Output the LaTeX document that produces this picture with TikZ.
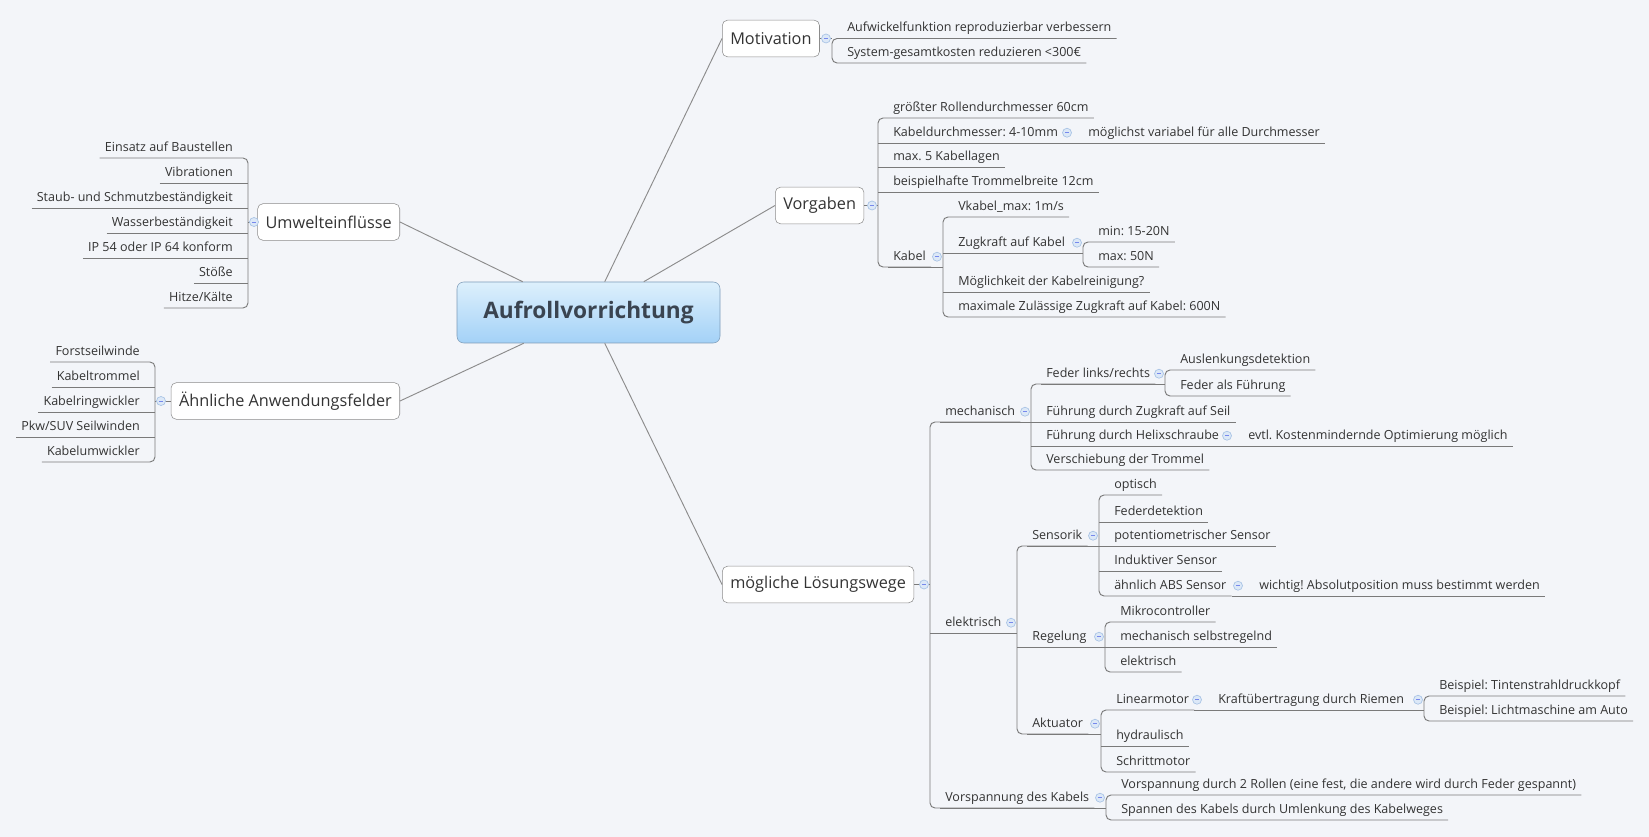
\documentclass[tikz,border=0pt]{standalone}
\usepackage{fontspec}
\newfontfamily\mapfont{Open Sans}
\usepackage{tikz}
\usetikzlibrary{positioning, calc}
\frenchspacing

\definecolor{bgcol}{HTML}{F3F5F9}
\definecolor{txtgray}{HTML}{333333}
\definecolor{linegray}{HTML}{7A7A7A}
\definecolor{boxgray}{HTML}{8C8C8C}
\definecolor{roottop}{HTML}{DDF0FC}
\definecolor{rootbot}{HTML}{A3D1F7}
\definecolor{rootline}{HTML}{7D9BB8}
\definecolor{roottxt}{HTML}{3A4450}
\definecolor{foldfill}{HTML}{DCE8F7}
\definecolor{folddraw}{HTML}{A8C3E5}

\newcommand{\leaffont}{\mapfont\fontsize{9.4}{11}\selectfont}
\newcommand{\topicfont}{\mapfont\fontsize{12.2}{14}\selectfont}
\newcommand{\rootfont}{\mapfont\bfseries\fontsize{17}{20}\selectfont}

\tikzset{
  rootbox/.style={draw=rootline, rounded corners=5pt, top color=roottop, bottom color=rootbot,
    text=roottxt, font=\rootfont, minimum width=197.25pt, minimum height=45.75pt},
  topic/.style={draw=boxgray, fill=white, rounded corners=4pt, text=txtgray, font=\topicfont,
    inner xsep=6pt, inner ysep=0pt, minimum height=27.5pt},
  leaf/.style={text=txtgray, font=\leaffont, inner xsep=3.75pt, inner ysep=3pt,
    text height=7pt, text depth=2pt},
  leafR/.style={leaf, anchor=south west},
  leafL/.style={leaf, anchor=south east},
  branch/.style={draw=boxgray, line width=0.7pt},
  uline/.style={draw=linegray, line width=0.7pt, rounded corners=3.75pt},
  fold/.style={circle, draw=folddraw, fill=foldfill, line width=0.5pt, inner sep=0pt, minimum size=6.75pt,
    path picture={\draw[folddraw!70!blue, line width=0.6pt]
      ([xshift=-1.6pt]path picture bounding box.center) -- ([xshift=1.6pt]path picture bounding box.center);}},
}

\begin{document}
\begin{tikzpicture}[x=0.75pt, y=-0.75pt]
    % Background and page size
    \path[use as bounding box, fill=bgcol] (0,0) rectangle (1649,837);

    % Central topic and main topics
    \node[rootbox] (root) at (588.5,312.5) {Aufrollvorrichtung};
    \node[topic, anchor=east] (umwelt) at (400,222) {Umwelteinflüsse};
    \node[topic, anchor=east] (aehnl) at (400,401) {Ähnliche Anwendungsfelder};
    \node[topic, anchor=west] (motiv) at (722,38.5) {Motivation};
    \node[topic, anchor=west] (vorg) at (775,205.5) {Vorgaben};
    \node[topic, anchor=west] (loesung) at (722,584.5) {mögliche Lösungswege};

    % Branches from the central topic
    \draw[branch] (umwelt.east) -- ($(root.north west)+(66,0)$);
    \draw[branch] (aehnl.east) -- ($(root.south west)+(67,0)$);
    \draw[branch] (motiv.west) -- ($(root.north west)+(148,0)$);
    \draw[branch] (vorg.west) -- ($(root.north west)+(187,0)$);
    \draw[branch] (loesung.west) -- ($(root.south west)+(148,0)$);

    % Umwelteinflüsse
    \node[leafL] (einsatz) at (238,158) {Einsatz auf Baustellen};
    \node[leafL] (vibra) at (238,183) {Vibrationen};
    \node[leafL] (staub) at (238,208) {Staub- und Schmutzbeständigkeit};
    \node[leafL] (wasser) at (238,233) {Wasserbeständigkeit};
    \node[leafL] (ip) at (238,258) {IP 54 oder IP 64 konform};
    \node[leafL] (stoss) at (238,283) {Stöße};
    \node[leafL] (hitze) at (238,308) {Hitze/Kälte};
    \draw[uline] (einsatz.south west) -- ($(einsatz.south east)+(10,0)$) -- ($(hitze.south east)+(10,0)$) -- (hitze.south west);
    \foreach \n in {vibra,staub,wasser,ip,stoss}
        \draw[uline] (\n.south west) -- ($(\n.south east)+(10,0)$);
    \draw[uline] (umwelt.west) -- ($(einsatz.south east |- umwelt.west)+(10,0)$);
    \node[fold] (fUmwelt) at ($(einsatz.south east |- umwelt.west)+(16,0)$) {};

    % Ähnliche Anwendungsfelder
    \node[leafL] (forst) at (145,362) {Forstseilwinde};
    \node[leafL] (ktrommel) at (145,387) {Kabeltrommel};
    \node[leafL] (kring) at (145,412) {Kabelringwickler};
    \node[leafL] (pkw) at (145,437) {Pkw/SUV Seilwinden};
    \node[leafL] (kumw) at (145,462) {Kabelumwickler};
    \draw[uline] (forst.south west) -- ($(forst.south east)+(10,0)$) -- ($(kumw.south east)+(10,0)$) -- (kumw.south west);
    \foreach \n in {ktrommel,kring,pkw}
        \draw[uline] (\n.south west) -- ($(\n.south east)+(10,0)$);
    \draw[uline] (aehnl.west) -- ($(forst.south east |- aehnl.west)+(10,0)$);
    \node[fold] (fAehnl) at ($(forst.south east |- aehnl.west)+(16,0)$) {};

    % Motivation
    \node[leafR] (aufw) at (842,38.5) {Aufwickelfunktion reproduzierbar verbessern};
    \node[leafR] (kosten) at (842,63) {System-gesamtkosten reduzieren <300€};
    \draw[uline] (aufw.south east) -- ($(aufw.south west)+(-10,0)$) -- ($(kosten.south west)+(-10,0)$) -- (kosten.south east);
    \draw[uline] (motiv.east) -- ($(aufw.south west |- motiv.east)+(-10,0)$);
    \node[fold] (fMotiv) at ($(aufw.south west |- motiv.east)+(-16,0)$) {};

    % Vorgaben
    \node[leafR] (groesst) at (888,118) {größter Rollendurchmesser 60cm};
    \node[leafR] (kdurch) at (888,143) {Kabeldurchmesser: 4-10mm};
    \node[leafR] (variabel) at (1083,143) {möglichst variabel für alle Durchmesser};
    \node[leafR] (lagen) at (888,167) {max. 5 Kabellagen};
    \node[leafR] (breite) at (888,192) {beispielhafte Trommelbreite 12cm};
    \node[leafR] (kabel) at (888,267) {Kabel};
    \draw[uline] (groesst.south east) -- ($(groesst.south west)+(-10,0)$) -- ($(kabel.south west)+(-10,0)$) -- (kabel.south east);
    \foreach \n in {kdurch,lagen,breite}
        \draw[uline] (\n.south east) -- ($(\n.south west)+(-10,0)$);
    \draw[uline] (kdurch.south east) -- (variabel.south east);
    \draw[uline] (vorg.east) -- ($(groesst.south west |- vorg.east)+(-10,0)$);
    \node[fold] (fVorg) at ($(groesst.south west |- vorg.east)+(-16,0)$) {};
    \node[fold] (fKdurch) at ($(variabel.south west |- kdurch.center)+(-16,0)$) {};

    % Kabel
    \node[leafR] (vkabel) at (953,217) {Vkabel\_max: 1m/s};
    \node[leafR] (zugkraft) at (953,253) {Zugkraft auf Kabel};
    \node[leafR] (zmin) at (1093,242) {min: 15-20N};
    \node[leafR] (zmax) at (1093,267) {max: 50N};
    \node[leafR] (reinig) at (953,292) {Möglichkeit der Kabelreinigung?};
    \node[leafR] (maxzug) at (953,317) {maximale Zulässige Zugkraft auf Kabel: 600N};
    \draw[uline] (kabel.south west) -- ($(vkabel.south west |- kabel.south)+(-10,0)$);
    \draw[uline] (vkabel.south east) -- ($(vkabel.south west)+(-10,0)$) -- ($(maxzug.south west)+(-10,0)$) -- (maxzug.south east);
    \foreach \n in {zugkraft,reinig}
        \draw[uline] (\n.south east) -- ($(\n.south west)+(-10,0)$);
    \draw[uline] (zugkraft.south west) -- ($(zmin.south west |- zugkraft.south)+(-10,0)$);
    \draw[uline] (zmin.south east) -- ($(zmin.south west)+(-10,0)$) -- ($(zmax.south west)+(-10,0)$) -- (zmax.south east);
    \node[fold] (fKabel) at ($(vkabel.south west |- kabel.center)+(-16,0)$) {};
    \node[fold] (fZug) at ($(zmin.south west |- zugkraft.center)+(-16,0)$) {};

    % mögliche Lösungswege
    \node[leafR] (mech) at (940,422) {mechanisch};
    \node[leafR] (elek) at (940,633) {elektrisch};
    \node[leafR] (vorsp) at (940,808) {Vorspannung des Kabels};
    \draw[uline] (mech.south east) -- ($(mech.south west)+(-10,0)$) -- ($(vorsp.south west)+(-10,0)$) -- (vorsp.south east);
    \draw[uline] (elek.south east) -- ($(elek.south west)+(-10,0)$);
    \draw[uline] (loesung.east) -- ($(mech.south west |- loesung.east)+(-10,0)$);
    \node[fold] (fLoesung) at ($(mech.south west |- loesung.east)+(-16,0)$) {};

    % mechanisch
    \node[leafR] (feder) at (1041,384) {Feder links/rechts};
    \node[leafR] (ausl) at (1175,370) {Auslenkungsdetektion};
    \node[leafR] (fuehr) at (1175,396) {Feder als Führung};
    \node[leafR] (zugseil) at (1041,422) {Führung durch Zugkraft auf Seil};
    \node[leafR] (helix) at (1041,446) {Führung durch Helixschraube};
    \node[leafR] (optim) at (1243,446) {evtl. Kostenmindernde Optimierung möglich};
    \node[leafR] (versch) at (1041,470) {Verschiebung der Trommel};
    \draw[uline] (mech.south west) -- ($(feder.south west |- mech.south)+(-10,0)$);
    \draw[uline] (feder.south east) -- ($(feder.south west)+(-10,0)$) -- ($(versch.south west)+(-10,0)$) -- (versch.south east);
    \foreach \n in {zugseil,helix}
        \draw[uline] (\n.south east) -- ($(\n.south west)+(-10,0)$);
    \draw[uline] (helix.south east) -- (optim.south east);
    \draw[uline] (feder.south west) -- ($(ausl.south west |- feder.south)+(-10,0)$);
    \draw[uline] (ausl.south east) -- ($(ausl.south west)+(-10,0)$) -- ($(fuehr.south west)+(-10,0)$) -- (fuehr.south east);
    \node[fold] (fMech) at ($(feder.south west |- mech.center)+(-16,0)$) {};
    \node[fold] (fFeder) at ($(ausl.south west |- feder.center)+(-16,0)$) {};
    \node[fold] (fHelix) at ($(optim.south west |- helix.center)+(-16,0)$) {};

    % elektrisch
    \node[leafR] (sensor) at (1027,546) {Sensorik};
    \node[leafR] (regel) at (1027,647) {Regelung};
    \node[leafR] (aktu) at (1027,734) {Aktuator};
    \draw[uline] (elek.south west) -- ($(sensor.south west |- elek.south)+(-10,0)$);
    \draw[uline] (sensor.south east) -- ($(sensor.south west)+(-10,0)$) -- ($(aktu.south west)+(-10,0)$) -- (aktu.south east);
    \draw[uline] (regel.south east) -- ($(regel.south west)+(-10,0)$);
    \node[fold] (fElek) at ($(sensor.south west |- elek.center)+(-16,0)$) {};

    % Sensorik
    \node[leafR] (optisch) at (1109,495) {optisch};
    \node[leafR] (federdet) at (1109,522) {Federdetektion};
    \node[leafR] (poti) at (1109,546) {potentiometrischer Sensor};
    \node[leafR] (induk) at (1109,571) {Induktiver Sensor};
    \node[leafR] (abs) at (1109,596) {ähnlich ABS Sensor};
    \node[leafR] (wichtig) at (1254,596) {wichtig! Absolutposition muss bestimmt werden};
    \draw[uline] (sensor.south west) -- ($(optisch.south west |- sensor.south)+(-10,0)$);
    \draw[uline] (optisch.south east) -- ($(optisch.south west)+(-10,0)$) -- ($(abs.south west)+(-10,0)$) -- (abs.south east);
    \foreach \n in {federdet,poti,induk}
        \draw[uline] (\n.south east) -- ($(\n.south west)+(-10,0)$);
    \draw[uline] (abs.south east) -- (wichtig.south east);
    \node[fold] (fSensor) at ($(optisch.south west |- sensor.center)+(-16,0)$) {};
    \node[fold] (fAbs) at ($(wichtig.south west |- abs.center)+(-16,0)$) {};

    % Regelung
    \node[leafR] (mikro) at (1115,622) {Mikrocontroller};
    \node[leafR] (selbst) at (1115,647) {mechanisch selbstregelnd};
    \node[leafR] (elektr) at (1115,672) {elektrisch};
    \draw[uline] (regel.south west) -- ($(mikro.south west |- regel.south)+(-10,0)$);
    \draw[uline] (mikro.south east) -- ($(mikro.south west)+(-10,0)$) -- ($(elektr.south west)+(-10,0)$) -- (elektr.south east);
    \draw[uline] (selbst.south east) -- ($(selbst.south west)+(-10,0)$);
    \node[fold] (fRegel) at ($(mikro.south west |- regel.center)+(-16,0)$) {};

    % Aktuator
    \node[leafR] (linear) at (1111,710) {Linearmotor};
    \node[leafR] (kraft) at (1213,710) {Kraftübertragung durch Riemen};
    \node[leafR] (tinte) at (1434,696) {Beispiel: Tintenstrahldruckkopf};
    \node[leafR] (licht) at (1434,721) {Beispiel: Lichtmaschine am Auto};
    \node[leafR] (hydr) at (1111,746) {hydraulisch};
    \node[leafR] (schritt) at (1111,772) {Schrittmotor};
    \draw[uline] (aktu.south west) -- ($(linear.south west |- aktu.south)+(-10,0)$);
    \draw[uline] (linear.south east) -- ($(linear.south west)+(-10,0)$) -- ($(schritt.south west)+(-10,0)$) -- (schritt.south east);
    \draw[uline] (hydr.south east) -- ($(hydr.south west)+(-10,0)$);
    \draw[uline] (linear.south east) -- ($(tinte.south west |- kraft.south)+(-10,0)$);
    \draw[uline] (tinte.south east) -- ($(tinte.south west)+(-10,0)$) -- ($(licht.south west)+(-10,0)$) -- (licht.south east);
    \node[fold] (fAktu) at ($(linear.south west |- aktu.center)+(-16,0)$) {};
    \node[fold] (fLinear) at ($(kraft.south west |- linear.center)+(-16,0)$) {};
    \node[fold] (fKraft) at ($(tinte.south west |- kraft.center)+(-16,0)$) {};

    % Vorspannung des Kabels
    \node[leafR] (rollen) at (1116,795) {Vorspannung durch 2 Rollen (eine fest, die andere wird durch Feder gespannt)};
    \node[leafR] (umlenk) at (1116,820) {Spannen des Kabels durch Umlenkung des Kabelweges};
    \draw[uline] (vorsp.south west) -- ($(rollen.south west |- vorsp.south)+(-10,0)$);
    \draw[uline] (rollen.south east) -- ($(rollen.south west)+(-10,0)$) -- ($(umlenk.south west)+(-10,0)$) -- (umlenk.south east);
    \node[fold] (fVorsp) at ($(rollen.south west |- vorsp.center)+(-16,0)$) {};
\end{tikzpicture}
\end{document}
